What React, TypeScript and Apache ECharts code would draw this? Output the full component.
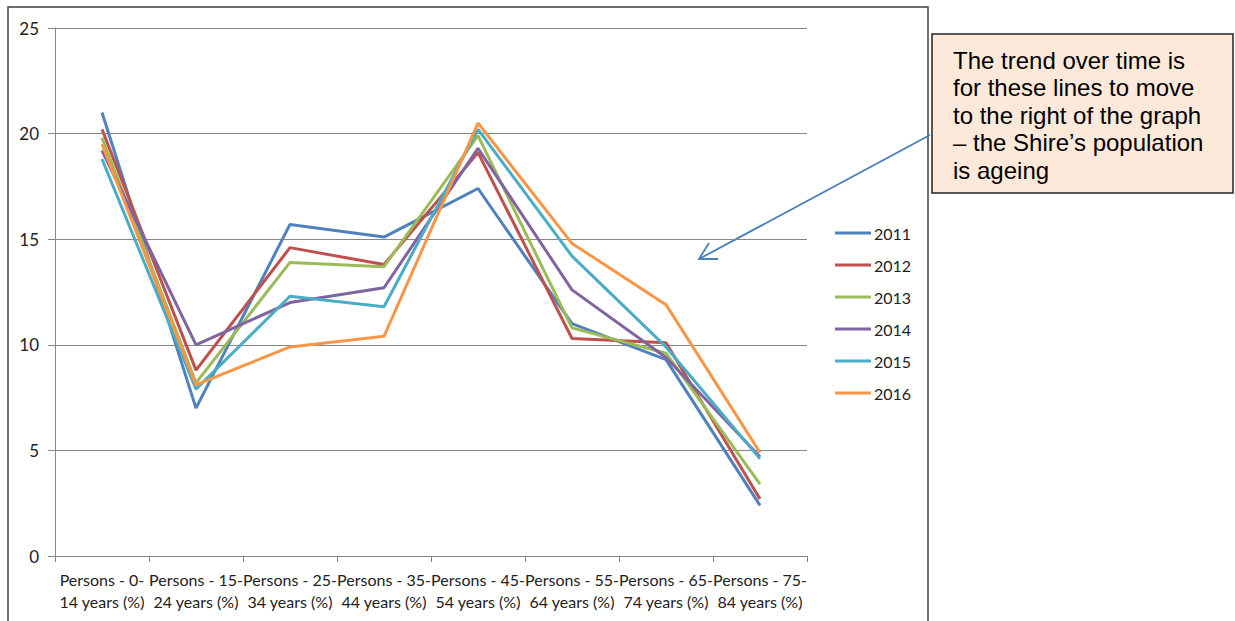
import React, { useEffect, useRef } from "react";
import * as echarts from "echarts";

const categories = [
  "Persons - 0-14 years (%)",
  "Persons - 15-24 years (%)",
  "Persons - 25-34 years (%)",
  "Persons - 35-44 years (%)",
  "Persons - 45-54 years (%)",
  "Persons - 55-64 years (%)",
  "Persons - 65-74 years (%)",
  "Persons - 75-84 years (%)",
];

const years = ["2011", "2012", "2013", "2014", "2015", "2016"];

const v2011 = [21.0, 7.0, 15.7, 15.1, 17.4, 11.0, 9.3, 2.4];
const v2012 = [20.2, 8.8, 14.6, 13.8, 19.1, 10.3, 10.1, 2.7];
const v2013 = [19.8, 8.2, 13.9, 13.7, 19.9, 10.8, 9.6, 3.4];
const v2014 = [19.2, 10.0, 12.0, 12.7, 19.3, 12.6, 9.4, 4.7];
const v2015 = [18.8, 7.9, 12.3, 11.8, 20.2, 14.2, 9.9, 4.6];
const v2016 = [19.5, 8.1, 9.9, 10.4, 20.5, 14.8, 11.9, 4.9];

const seriesValues = [v2011, v2012, v2013, v2014, v2015, v2016];
const colors = ["#4F81BD", "#C0504D", "#9BBB59", "#8064A2", "#4BACC6", "#F79646"];

const yTicks = [0, 5, 10, 15, 20, 25];

const noteLines = [
  "The trend over time is",
  "for these lines to move",
  "to the right of the graph",
  "\u2013 the Shire\u2019s population",
  "is ageing",
];

const labelFont = "Lato, 'Liberation Sans', sans-serif";

export default function App() {
  const ref = useRef<HTMLDivElement>(null);
  useEffect(() => {
    document.body.style.margin = "0";
    const chart = echarts.init(ref.current!, null, { renderer: "svg" });
    chart.setOption({
      animation: false,
      backgroundColor: "#ffffff",
      grid: { left: 55, top: 28, right: 428, bottom: 65, containLabel: false },
      legend: {
        orient: "vertical",
        left: 835,
        top: 225,
        padding: 0,
        data: years,
        icon: "rect",
        itemWidth: 36,
        itemHeight: 3,
        itemGap: 16,
        textStyle: { fontSize: 16, lineHeight: 16, color: "#222", fontFamily: labelFont, padding: [0, 0, 0, -2] },
      },
      xAxis: {
        type: "category",
        data: categories,
        boundaryGap: true,
        axisLine: { lineStyle: { color: "#868686", width: 1 } },
        axisTick: { show: true, length: 6, lineStyle: { color: "#868686" } },
        axisLabel: {
          interval: 0,
          fontSize: 16,
          color: "#222",
          fontFamily: labelFont,
          lineHeight: 22,
          margin: 12,
          formatter: (s: string) => s.replace(/(\d+-)/, "$1\n"),
        },
        splitLine: { show: false },
      },
      yAxis: {
        type: "value",
        min: yTicks[0],
        max: yTicks[yTicks.length - 1],
        interval: 5,
        axisLine: { show: true, lineStyle: { color: "#868686", width: 1 } },
        axisTick: { show: true, length: 7, lineStyle: { color: "#868686" } },
        axisLabel: { fontSize: 17, color: "#222", fontFamily: labelFont, margin: 16 },
        splitLine: { lineStyle: { color: "#868686", width: 1 } },
      },
      series: years.map((y, i) => ({
        name: y,
        type: "line",
        data: seriesValues[i],
        symbol: "none",
        color: colors[i],
        lineStyle: { width: 3, color: colors[i] },
      })),
      graphic: [
        {
          type: "rect",
          shape: { x: 8, y: 7, width: 920, height: 640 },
          style: { fill: "none", stroke: "#404040", lineWidth: 1.5 },
          silent: true,
        },
        {
          type: "rect",
          shape: { x: 932, y: 34, width: 301, height: 159 },
          style: { fill: "#FDE9D9", stroke: "#222", lineWidth: 1.5 },
        },
        ...noteLines.map((t, i) => ({
          type: "text",
          x: 953,
          y: 60 + i * 27.5,
          style: {
            text: t,
            fill: "#000",
            font: "24px 'Liberation Sans', Arial, sans-serif",
            textVerticalAlign: "middle",
            verticalAlign: "middle",
          },
        })),
        {
          type: "line",
          shape: { x1: 930, y1: 135, x2: 699, y2: 259 },
          style: { stroke: "#4A7EBB", lineWidth: 1.8 },
        },
        {
          type: "polyline",
          shape: { points: [[718, 259], [699, 259], [709, 243]] },
          style: { stroke: "#4A7EBB", lineWidth: 1.8, fill: "none" },
        },
      ],
    });
    return () => chart.dispose();
  }, []);
  return <div ref={ref} style={{ width: 1235, height: 621 }} />;
}
